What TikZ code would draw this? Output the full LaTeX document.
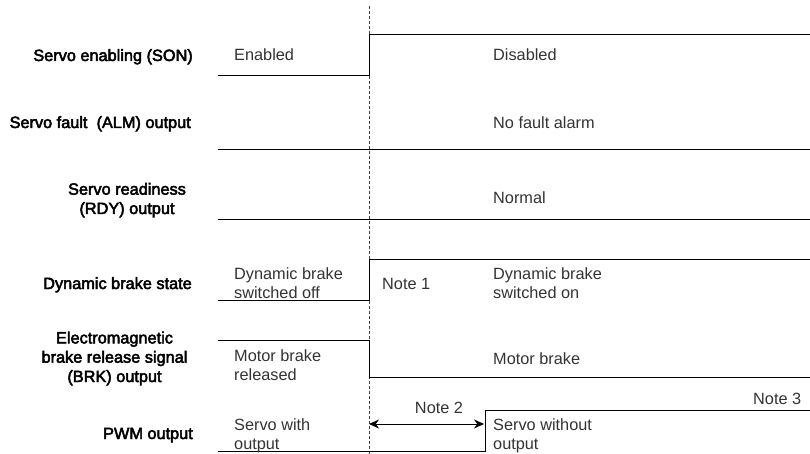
\documentclass[tikz,border=0pt]{standalone}
\usepackage{fontspec}
\setmainfont{Liberation Sans}
\newfontfamily\labfont[BoldFont={Liberation Sans},BoldFeatures={FakeBold=3}]{Liberation Sans}
\usetikzlibrary{arrows.meta}
\begin{document}
\begin{tikzpicture}[x=1pt,y=-1pt,
  lab/.style={font=\fontsize{16.3}{19.3}\selectfont\labfont\bfseries, text=black, inner sep=0pt, align=center},
  val/.style={font=\fontsize{16.3}{19}\selectfont, text=black!80, inner sep=0pt, anchor=base west, align=left},
  wave/.style={line width=0.9pt, black},
  marker/.style={dash pattern=on 3pt off 2pt, line width=0.7pt, black!75},
  span/.style={line width=0.9pt, black, {Stealth[length=10pt,width=9pt]}-{Stealth[length=10pt,width=9pt]}}]
\useasboundingbox (0,0) rectangle (810,454);

% time marker
\coordinate (mtop) at (369,6);
\coordinate (mbot) at (369,454);
\draw[marker] (mtop) -- (mbot);

% SON
\coordinate (son0) at (218,75);
\coordinate (son1) at (369,75);
\coordinate (son2) at (369,34);
\coordinate (son3) at (810,34);
\draw[wave] (son0) -- (son1) -- (son2) -- (son3);
% ALM
\coordinate (alm0) at (218,149);
\coordinate (alm1) at (810,149);
\draw[wave] (alm0) -- (alm1);
% RDY
\coordinate (rdy0) at (218,219);
\coordinate (rdy1) at (810,219);
\draw[wave] (rdy0) -- (rdy1);
% Dynamic brake
\coordinate (db0) at (218,300);
\coordinate (db1) at (369,300);
\coordinate (db2) at (369,259);
\coordinate (db3) at (810,259);
\draw[wave] (db0) -- (db1) -- (db2) -- (db3);
% BRK
\coordinate (brk0) at (218,340);
\coordinate (brk1) at (369,340);
\coordinate (brk2) at (369,377);
\coordinate (brk3) at (810,377);
\draw[wave] (brk0) -- (brk1) -- (brk2) -- (brk3);
% PWM
\coordinate (pwm0) at (218,451);
\coordinate (pwm1) at (485,451);
\coordinate (pwm2) at (485,410);
\coordinate (pwm3) at (810,410);
\draw[wave] (pwm0) -- (pwm1) -- (pwm2) -- (pwm3);
% Note 2 span
\coordinate (spa) at (369,424);
\coordinate (spb) at (484,424);
\draw[span] (spa) -- (spb);

% signal labels (multi-line nodes: base = last line)
\node[lab, anchor=base east] (lson) at (193,61) {Servo enabling (SON)};
\node[lab, anchor=base east] (lalm) at (191,128) {Servo fault~ (ALM) output};
\node[lab, anchor=base] (lrdy) at (127,214) {Servo readiness\\(RDY) output};
\node[lab, anchor=base east] (ldb) at (192,289) {Dynamic brake state};
\node[lab, anchor=base] (lbrk) at (114.5,382) {Electromagnetic\\brake release signal\\(BRK) output};
\node[lab, anchor=base east] (lpwm) at (193,439) {PWM output};

% state texts
\node[val] (ten) at (234,61) {Enabled};
\node[val] (tdis) at (493,61) {Disabled};
\node[val] (tnf) at (493,129) {No fault alarm};
\node[val] (tnorm) at (493,204) {Normal};
\node[val] (tdboff) at (234,298.5) {Dynamic brake\\switched off};
\node[val] (tdbon) at (493,298) {Dynamic brake\\switched on};
\node[val] (tmbr) at (234,380.5) {Motor brake\\released};
\node[val] (tmb) at (493,364) {Motor brake};
\node[val] (tsw) at (234,449) {Servo with\\output};
\node[val] (tswo) at (493,449) {Servo without\\output};

% notes
\node[val] (n1) at (382,289) {Note 1};
\node[val, anchor=base] (n2) at (439,413) {Note 2};
\node[val] (n3) at (753,404) {Note 3};
\end{tikzpicture}
\end{document}
